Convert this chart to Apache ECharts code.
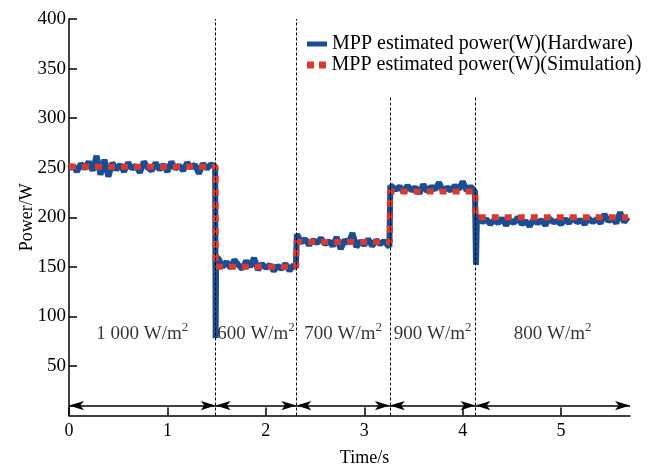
<!DOCTYPE html>
<html><head><meta charset="utf-8">
<script src="https://cdn.jsdelivr.net/npm/echarts@6/dist/echarts.min.js"></script>
<style>html,body{margin:0;padding:0;background:#fff}#c{width:656px;height:467px}</style>
</head><body><div id="c"></div>
<script>
const xTicks = [0, 1, 2, 3, 4, 5];
const boundaries = [0, 1.49, 2.31, 3.26, 4.13, 5.7];
const irradiance = ['1 000', '600', '700', '900', '800'];
const dividerTops = [400, 400, 322, 322];
const arrowLevel = 10;
const labelLevel = 84;
const seriesNames = ['MPP estimated power(W)(Hardware)', 'MPP estimated power(W)(Simulation)'];

const hardware = [
  [0.00,249],[0.04,252],[0.08,246],[0.12,254],[0.16,249],[0.20,256],[0.24,247],[0.28,262],[0.32,243],[0.36,258],
  [0.40,241],[0.44,255],[0.48,248],[0.52,253],[0.56,246],[0.60,255],[0.64,249],[0.68,252],[0.72,245],[0.76,256],
  [0.80,250],[0.84,247],[0.88,255],[0.92,248],[0.96,253],[1.00,246],[1.04,256],[1.08,249],[1.12,252],[1.16,247],
  [1.20,255],[1.24,250],[1.28,253],[1.32,244],[1.36,254],[1.40,249],[1.44,253],[1.485,252],[1.49,78],[1.495,160],
  [1.52,158],[1.56,150],[1.60,155],[1.64,149],[1.68,157],[1.72,152],[1.76,148],[1.80,156],[1.84,150],[1.88,159],
  [1.92,147],[1.96,153],[2.00,149],[2.04,152],[2.08,146],[2.12,151],[2.16,148],[2.20,153],[2.24,146],[2.28,152],
  [2.305,149],[2.315,183],[2.32,182],[2.36,175],[2.40,178],[2.44,172],[2.48,177],[2.52,174],[2.56,179],[2.60,173],
  [2.64,176],[2.68,171],[2.72,180],[2.76,168],[2.80,177],[2.84,174],[2.88,184],[2.92,170],[2.96,176],[3.00,172],
  [3.04,178],[3.08,171],[3.12,177],[3.16,173],[3.20,176],[3.255,170],[3.265,232],[3.28,233],[3.32,228],[3.36,231],
  [3.40,225],[3.44,232],[3.48,227],[3.52,230],[3.56,224],[3.60,233],[3.64,226],[3.68,231],[3.72,228],[3.76,235],
  [3.80,226],[3.84,230],[3.88,227],[3.92,232],[3.96,228],[4.00,236],[4.04,227],[4.08,231],[4.125,226],[4.135,152],
  [4.145,201],[4.16,201],[4.20,195],[4.24,198],[4.28,193],[4.32,197],[4.36,194],[4.40,199],[4.44,192],[4.48,197],
  [4.52,194],[4.56,200],[4.60,193],[4.64,196],[4.68,191],[4.72,198],[4.76,194],[4.80,197],[4.84,192],[4.88,199],
  [4.92,195],[4.96,196],[5.00,193],[5.04,198],[5.08,194],[5.12,200],[5.16,195],[5.20,197],[5.24,193],[5.28,199],
  [5.32,195],[5.36,198],[5.40,194],[5.44,203],[5.48,196],[5.52,199],[5.56,194],[5.60,205],[5.64,195],[5.68,200]
];
const simulation = [
  [0,251],[1.49,251],[1.49,150],[2.31,150],[2.31,175],[3.26,175],[3.26,226],[4.13,226],[4.13,200],[5.68,200]
];

const serif = 'Liberation Serif';
const blue = '#1b4d93', red = '#d93a30';
const arrowHead = [7, 15];
const dividers = boundaries.slice(1, 5).map((b, i) => [{coord: [b, 0]}, {coord: [b, dividerTops[i]]}]);
const arrows = boundaries.slice(0, 5).map((b, i) => [
  {coord: [b, arrowLevel], symbolSize: arrowHead},
  {coord: [boundaries[i + 1], arrowLevel], symbolSize: arrowHead}
]);
const regionLabels = irradiance.map((t, i) => [(boundaries[i] + boundaries[i + 1]) / 2, labelLevel, t]);
const legendText = {fontFamily: serif, fontSize: 20, color: '#000'};

const chart = echarts.init(document.getElementById('c'), null, {renderer: 'canvas'});
chart.setOption({
  backgroundColor: '#ffffff',
  animation: false,
  textStyle: {fontFamily: serif},
  grid: {left: 69, right: 26, top: 19, bottom: 51.5, containLabel: false, outerBoundsMode: 'none'},
  legend: [
    {left: 307, top: 34, padding: 0, itemWidth: 20, itemHeight: 5, textStyle: legendText, icon: 'rect',
     data: [seriesNames[0]]},
    {left: 307, top: 55, padding: 0, itemWidth: 20, itemHeight: 7, textStyle: legendText,
     icon: 'path://M0,0H7V7H0Z M12,0H19V7H12Z', data: [seriesNames[1]]}
  ],
  xAxis: {
    type: 'value', min: 0, max: 5.7, interval: 1,
    name: 'Time/s', nameLocation: 'middle', nameGap: 34, nameMoveOverlap: false,
    nameTextStyle: {fontFamily: serif, fontSize: 18, color: '#000', padding: [0, 0, 0, 30]},
    axisLine: {lineStyle: {color: '#000', width: 1.5}},
    axisTick: {inside: true, length: 8, lineStyle: {color: '#000', width: 1.5}, customValues: xTicks},
    axisLabel: {fontFamily: serif, fontSize: 18, color: '#000', margin: 7, customValues: xTicks},
    splitLine: {show: false}
  },
  yAxis: {
    type: 'value', min: 0, max: 400, interval: 50,
    name: 'Power/W', nameLocation: 'middle', nameGap: 33, nameMoveOverlap: false,
    nameTextStyle: {fontFamily: serif, fontSize: 18, color: '#000'},
    axisLine: {show: true, lineStyle: {color: '#000', width: 1.5}},
    axisTick: {inside: true, length: 8, lineStyle: {color: '#000', width: 1.5}},
    axisLabel: {fontFamily: serif, fontSize: 19, color: '#000', margin: 3, showMinLabel: false},
    splitLine: {show: false}
  },
  series: [
    {
      name: seriesNames[0], type: 'line', data: hardware, showSymbol: false, symbol: 'none',
      lineStyle: {color: blue, width: 6}, itemStyle: {color: blue}, z: 2,
      markLine: {
        silent: true, symbol: 'none', animation: false, label: {show: false},
        lineStyle: {color: '#000', width: 1, type: [3, 2]},
        data: dividers
      }
    },
    {
      name: seriesNames[1], type: 'line', data: simulation, showSymbol: false, symbol: 'none',
      lineStyle: {color: red, width: 6, type: [7, 6]}, itemStyle: {color: red}, z: 3,
      markLine: {
        silent: true, symbol: ['arrow', 'arrow'], symbolSize: 12, animation: false,
        label: {show: false},
        lineStyle: {color: '#000', width: 1.5, type: 'solid'}, itemStyle: {color: '#000'},
        data: arrows
      }
    },
    {
      type: 'scatter', data: regionLabels, symbolSize: 0, silent: true, z: 5,
      label: {
        show: true, position: 'inside', color: '#000', textBorderWidth: 0,
        formatter: p => '{n|' + p.value[2] + ' W/m}{s|2}',
        rich: {
          n: {fontFamily: serif, fontSize: 19, color: '#000', verticalAlign: 'bottom', lineHeight: 22, textBorderWidth: 0},
          s: {fontFamily: serif, fontSize: 13, color: '#000', verticalAlign: 'top', lineHeight: 22, textBorderWidth: 0}
        }
      }
    }
  ]
});
</script></body></html>
